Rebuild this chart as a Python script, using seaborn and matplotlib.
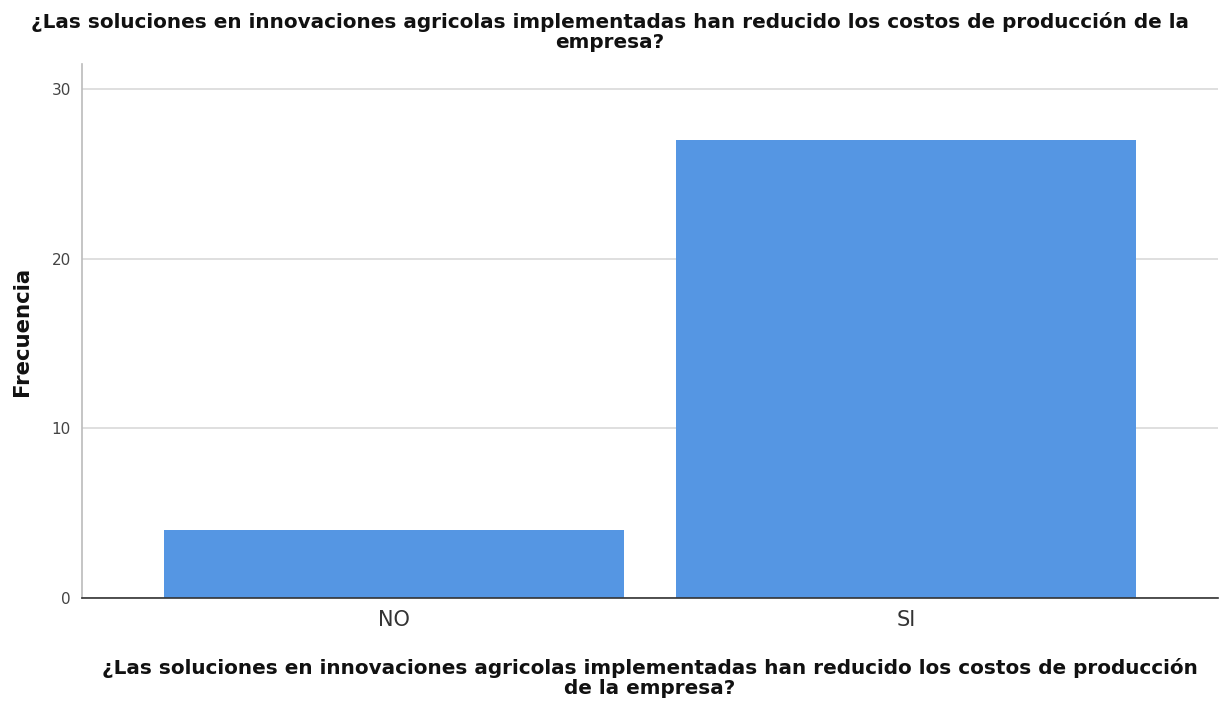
import matplotlib
matplotlib.use("Agg")
import matplotlib.pyplot as plt
import seaborn as sns
import pandas as pd

categories = ["NO", "SI"]
counts = [4, 27]
y_ticks = [0, 10, 20, 30]

title_text = ("¿Las soluciones en innovaciones agricolas implementadas han reducido los costos de producción de la\n"
              "empresa?")
xlabel_text = ("¿Las soluciones en innovaciones agricolas implementadas han reducido los costos de producción\n"
               "de la empresa?")
ylabel_text = "Frecuencia"

sns.set_theme(style="white")
plt.rcParams["font.family"] = ["DejaVu Sans"]

df = pd.DataFrame({"respuesta": categories, "frecuencia": counts})

fig = plt.figure(figsize=(12.2, 7.06), dpi=100)
ax = fig.add_axes([82 / 1220, 1 - 598 / 706, (1218 - 82) / 1220, (598 - 64) / 706])

sns.barplot(data=df, x="respuesta", y="frecuencia", color="#5596E3",
            saturation=1, width=0.9, ax=ax, zorder=3, edgecolor="none")

ax.set_ylim(0, 31.5)
ax.set_xlim(-0.61, 1.61)
ax.set_yticks(y_ticks)
ax.set_yticklabels([str(v) for v in y_ticks])
ax.yaxis.grid(True, color="#d9d9d9", linewidth=1.2, zorder=0)
ax.xaxis.grid(False)
ax.tick_params(axis="both", length=0)
ax.tick_params(axis="y", labelsize=11, colors="#444444", pad=8)
ax.tick_params(axis="x", labelsize=15, colors="#333333", pad=9)

for side in ["top", "right"]:
    ax.spines[side].set_visible(False)
ax.spines["left"].set_color("#bbbbbb")
ax.spines["left"].set_linewidth(1.2)
ax.spines["bottom"].set_color("#333333")
ax.spines["bottom"].set_linewidth(1.2)
ax.spines["bottom"].set_zorder(4)

ax.set_xlabel(xlabel_text, fontsize=14.45, fontweight="bold", labelpad=20, linespacing=1.02,
              color="#111111")
ax.set_ylabel(ylabel_text, fontsize=15.3, fontweight="bold", labelpad=14, color="#111111")

fig.text(610 / 1220, 1 - 32 / 706, title_text, ha="center", va="center",
         fontsize=14.4, fontweight="bold", linespacing=1.02, color="#111111")

fig.savefig("out.png", dpi=100, facecolor="white")
